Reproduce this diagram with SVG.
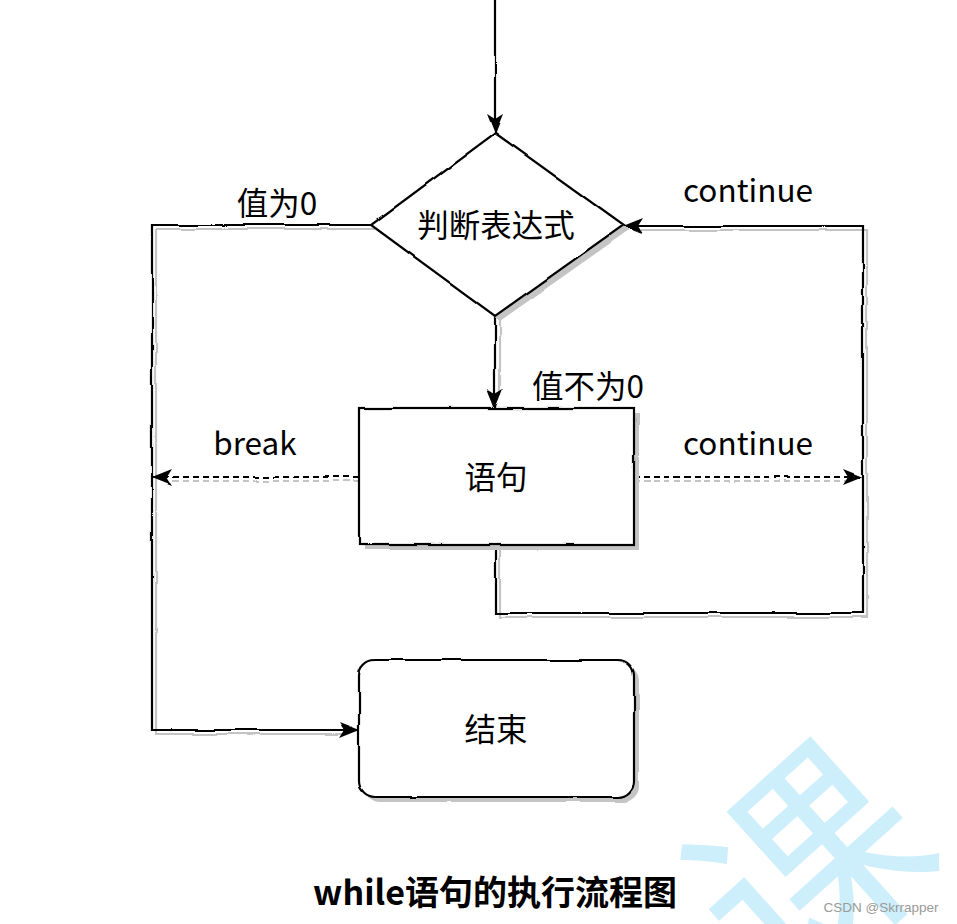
<svg xmlns="http://www.w3.org/2000/svg" width="957" height="924" viewBox="0 0 957 924">
<style>
.ln{fill:none;stroke:#000;stroke-width:2.2}
.sh{fill:none;stroke:#c4c4c4;stroke-width:2.2}
.dash{stroke-dasharray:6 4}
.node{fill:#fff;stroke:#000;stroke-width:2.2}
.nsh{fill:#c4c4c4;stroke:none}
.t{font-family:"Noto Sans CJK SC","Noto Sans",sans-serif;font-size:31.5px;fill:#000;text-anchor:middle}
</style>
<defs>
<filter id="rough" filterUnits="userSpaceOnUse" x="0" y="0" width="957" height="924">
<feTurbulence type="fractalNoise" baseFrequency="0.025" numOctaves="2" seed="4"/>
<feDisplacementMap in="SourceGraphic" scale="3.5" xChannelSelector="R" yChannelSelector="G"/>
</filter>
<marker id="arr" markerUnits="userSpaceOnUse" viewBox="0 0 20 16" refX="19" refY="8" markerWidth="20" markerHeight="16" orient="auto">
<path d="M0,0 L20,8 L0,16 L5,8 Z" fill="#000"/>
</marker>
</defs>
<rect width="957" height="924" fill="#fff"/>
<g id="watermark" fill="#cdeffb">
<text x="0" y="0" font-family="Noto Sans CJK SC,sans-serif" font-size="225" transform="translate(781,1004) rotate(-42)">课</text>
</g>
<g id="connectors" filter="url(#rough)">
<path class="sh" d="M156,229 L156,734 L345,734"/>
<path class="sh" d="M375,229 L156,229"/>
<path class="sh" d="M500,320 L500,395"/>
<path class="sh" d="M500,549 L500,617 L867,617 L867,230 L640,230"/>
<path class="sh dash" d="M359,481 L170,481"/>
<path class="sh dash" d="M634,481 L850,481"/>
<path class="ln" d="M495,0 L495,133" marker-end="url(#arr)"/>
<path class="ln" d="M495,316 L495,408" marker-end="url(#arr)"/>
<path class="ln" d="M371,225 L152,225 L152,730 L359,730" marker-end="url(#arr)"/>
<path class="ln" d="M496,545 L496,613 L863,613 L863,226 L623,226" marker-end="url(#arr)"/>
<path class="ln dash" d="M359,477 L153,477" marker-end="url(#arr)"/>
<path class="ln dash" d="M634,477 L862,477" marker-end="url(#arr)"/>
</g>
<g id="decision">
<polygon class="nsh" points="500,138 629,230 500,321 376,230" filter="url(#rough)"/>
<polygon class="node" points="495,133 623,225 495,316 371,225" filter="url(#rough)"/>
<text class="t" x="496" y="237">判断表达式</text>
</g>
<g id="statement">
<rect class="nsh" x="364" y="413" width="275" height="137" filter="url(#rough)"/>
<rect class="node" x="359" y="408" width="275" height="137" filter="url(#rough)"/>
<text class="t" x="496" y="489">语句</text>
</g>
<g id="end">
<rect class="nsh" x="364" y="665" width="275" height="137" rx="16" filter="url(#rough)"/>
<rect class="node" x="359" y="660" width="275" height="137" rx="16" filter="url(#rough)"/>
<text class="t" x="496" y="741">结束</text>
</g>
<g id="labels">
<text class="t" x="277" y="215">值为0</text>
<text class="t" x="748" y="202">continue</text>
<text class="t" x="588" y="398">值不为0</text>
<text class="t" x="748" y="455">continue</text>
<text class="t" x="255" y="455">break</text>
</g>
<text class="t" x="495" y="905" style="font-weight:bold;font-size:34px">while语句的执行流程图</text>
<text x="881" y="912" font-family="Liberation Sans,Arial,sans-serif" font-size="13.5" fill="#9a9a9a" text-anchor="middle">CSDN @Skrrapper</text>
</svg>
